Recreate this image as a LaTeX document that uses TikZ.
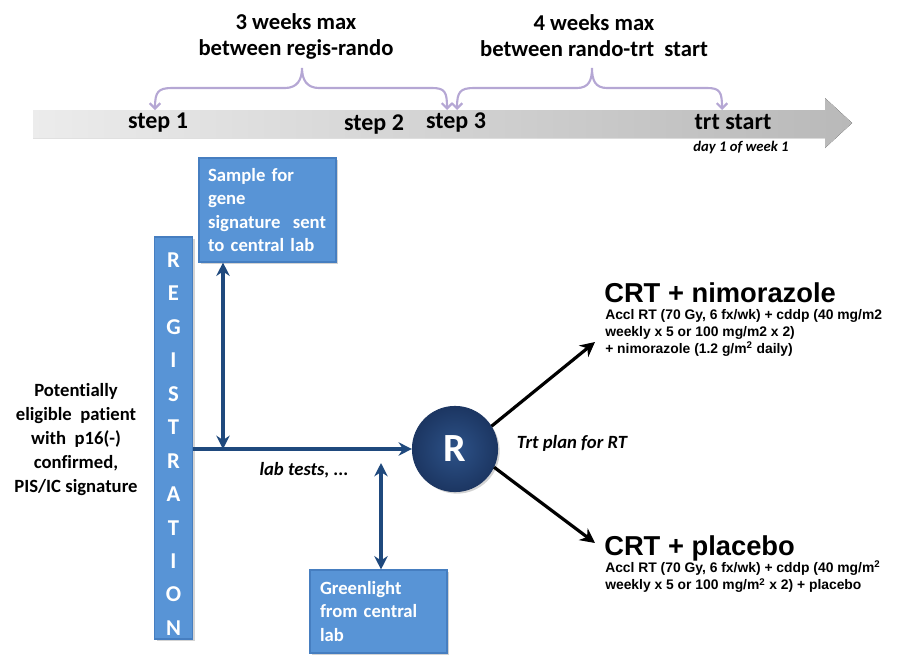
\documentclass[tikz,border=0pt]{standalone}
\usepackage{fontspec}
\setmainfont{Carlito}[Ligatures=CommonOff]
\newfontfamily\arialf{Liberation Sans}
\usetikzlibrary{arrows.meta,shadows}
\definecolor{boxblue}{RGB}{88,148,214}
\definecolor{boxedge}{RGB}{70,126,192}
\definecolor{navy}{RGB}{31,73,125}
\definecolor{rnavy}{RGB}{28,54,98}
\definecolor{rlight}{RGB}{45,82,136}
\definecolor{lav}{RGB}{181,167,212}
\begin{document}
\begin{tikzpicture}[x=0.75pt,y=-0.75pt,
  steplab/.style={font=\bfseries\fontsize{18}{20}\selectfont, inner sep=0pt},
  daylab/.style={font=\bfseries\itshape\fontsize{11}{13}\selectfont, inner sep=0pt},
  bracelab/.style={font=\bfseries\fontsize{17}{19.5}\selectfont, align=center, inner sep=0pt},
  brace/.style={draw=lav, line width=1.6pt, {Straight Barb[length=4pt,width=8pt]}-{Straight Barb[length=4pt,width=8pt]}},
  bluebox/.style={fill=boxblue, draw=boxedge, line width=0.8pt, text=white, align=left,
     font=\bfseries\fontsize{14}{17.6}\selectfont, drop shadow={opacity=0.35, shadow xshift=1.5pt, shadow yshift=-1.5pt}},
  regbar/.style={fill=boxblue, draw=boxedge, line width=0.8pt, minimum width=28.5pt, minimum height=301.5pt,
     drop shadow={opacity=0.35, shadow xshift=1.5pt, shadow yshift=-1.5pt}},
  reglet/.style={text=white, font=\bfseries\fontsize{17}{25.1}\selectfont, align=center, inner sep=0pt},
  plain/.style={font=\bfseries\fontsize{14}{18}\selectfont, align=center, inner sep=0pt},
  ital/.style={font=\bfseries\itshape\fontsize{14}{17}\selectfont, inner sep=0pt},
  rcirc/.style={circle, minimum size=64pt, inner color=rlight, outer color=rnavy, draw=rnavy, line width=0.6pt,
     text=white, font=\bfseries\fontsize{30}{32}\selectfont, drop shadow={opacity=0.35, shadow xshift=1.5pt, shadow yshift=-1.5pt}},
  conn/.style={draw=navy, line width=2.4pt},
  dbl/.style={conn, {Stealth[length=10pt,width=10pt]}-{Stealth[length=10pt,width=10pt]}},
  sgl/.style={conn, -{Stealth[length=10pt,width=10pt]}},
  blk/.style={draw=black, line width=2.4pt, -{Stealth[length=11pt,width=11pt]}},
  crt/.style={font=\arialf\bfseries\fontsize{20.5}{23}\selectfont, inner sep=0pt, anchor=west},
  sub/.style={font=\arialf\bfseries\fontsize{10.4}{12.8}\selectfont, inner sep=0pt, anchor=west, align=left}
]
\useasboundingbox (0,0) rectangle (903,664);

% timeline arrow
\fill[left color=gray!15, right color=gray!55] (33,110) -- (825,110) -- (825,98) -- (852,123) -- (825,148) -- (825,138) -- (33,138) -- cycle;

\node[steplab] (s1) at (158,123) {step 1};
\node[steplab] (s2) at (374,125) {step 2};
\node[steplab] (s3) at (456,123) {step 3};
\node[steplab] (ts) at (733,122) {trt start};
\node[daylab] (d1) at (741,148) {day 1 of week 1};

% braces
\coordinate (b1l) at (155,110);
\coordinate (b1c) at (302,68);
\coordinate (b1r) at (447,110);
\draw[brace] (b1l) .. controls (155,92) and (158,88) .. (172,88) -- (285,88)
  .. controls (297,88) and (302,80) .. (b1c) .. controls (302,80) and (307,88) .. (319,88)
  -- (432,88) .. controls (445,88) and (447,92) .. (b1r);
\coordinate (b2l) at (457,110);
\coordinate (b2c) at (592,68);
\coordinate (b2r) at (722,110);
\draw[brace] (b2l) .. controls (457,92) and (460,88) .. (474,88) -- (577,88)
  .. controls (589,88) and (592,80) .. (b2c) .. controls (592,80) and (595,88) .. (607,88)
  -- (707,88) .. controls (720,88) and (722,92) .. (b2r);

\node[bracelab] (l1) at (296,36) {3 weeks max\\between regis-rando};
\node[bracelab] (l2) at (594,36) {4 weeks max\\between rando-trt\ \ start};

% registration bar
\node[regbar] (reg) at (173.5,438) {};
\node[reglet] (regt) at (173.5,444) {R\\E\\G\\I\\S\\T\\R\\A\\T\\I\\O\\N};

% boxes
\node[bluebox, minimum width=102.75pt, minimum height=78pt, text width=89pt, inner xsep=6.75pt] (box1) at (267.5,210)
  {Sample for\\gene\\signature\ \ sent\\to central lab};
\node[bluebox, minimum width=102.75pt, minimum height=62.25pt, text width=87.75pt, inner xsep=7.5pt] (box2) at (378.5,611.5)
  {Greenlight\\from central\\lab};

% patient text
\node[plain] (pat) at (76,440) {Potentially\\eligible\ \ patient\\with\ \ p16(-)\\confirmed,\\PIS/IC signature};

% R circle
\node[rcirc] (Rc) at (455,449) {R};

% connectors
\draw[sgl] (reg.east |- Rc) -- (Rc.west);
\coordinate (j1) at (223,449);
\draw[dbl] (box1.south -| j1) -- (j1);
\coordinate (j2) at (381,463);
\draw[dbl] (j2) -- (j2 |- box2.north);

\node[ital] (lab) at (304,470) {lab tests, ...};
\node[ital] (trt) at (572,443) {Trt plan for RT};

% arms
\node[crt] (c1) at (604,293) {CRT + nimorazole};
\node[sub] (c1s) at (605,333) {Accl RT (70 Gy, 6 fx/wk) + cddp (40 mg/m2\\weekly x 5 or 100 mg/m2 x 2)\\+ nimorazole (1.2 g/m\textsuperscript{2} daily)};
\node[crt] (c2) at (604,548) {CRT + placebo};
\node[sub] (c2s) at (605,577) {Accl RT (70 Gy, 6 fx/wk) + cddp (40 mg/m\textsuperscript{2}\\weekly x 5 or 100 mg/m\textsuperscript{2} x 2) + placebo};

\coordinate (a1) at (595,342);
\coordinate (a2) at (595,543);
\draw[blk] (Rc.32) -- (a1);
\draw[blk] (Rc.-25) -- (a2);
\end{tikzpicture}
\end{document}
